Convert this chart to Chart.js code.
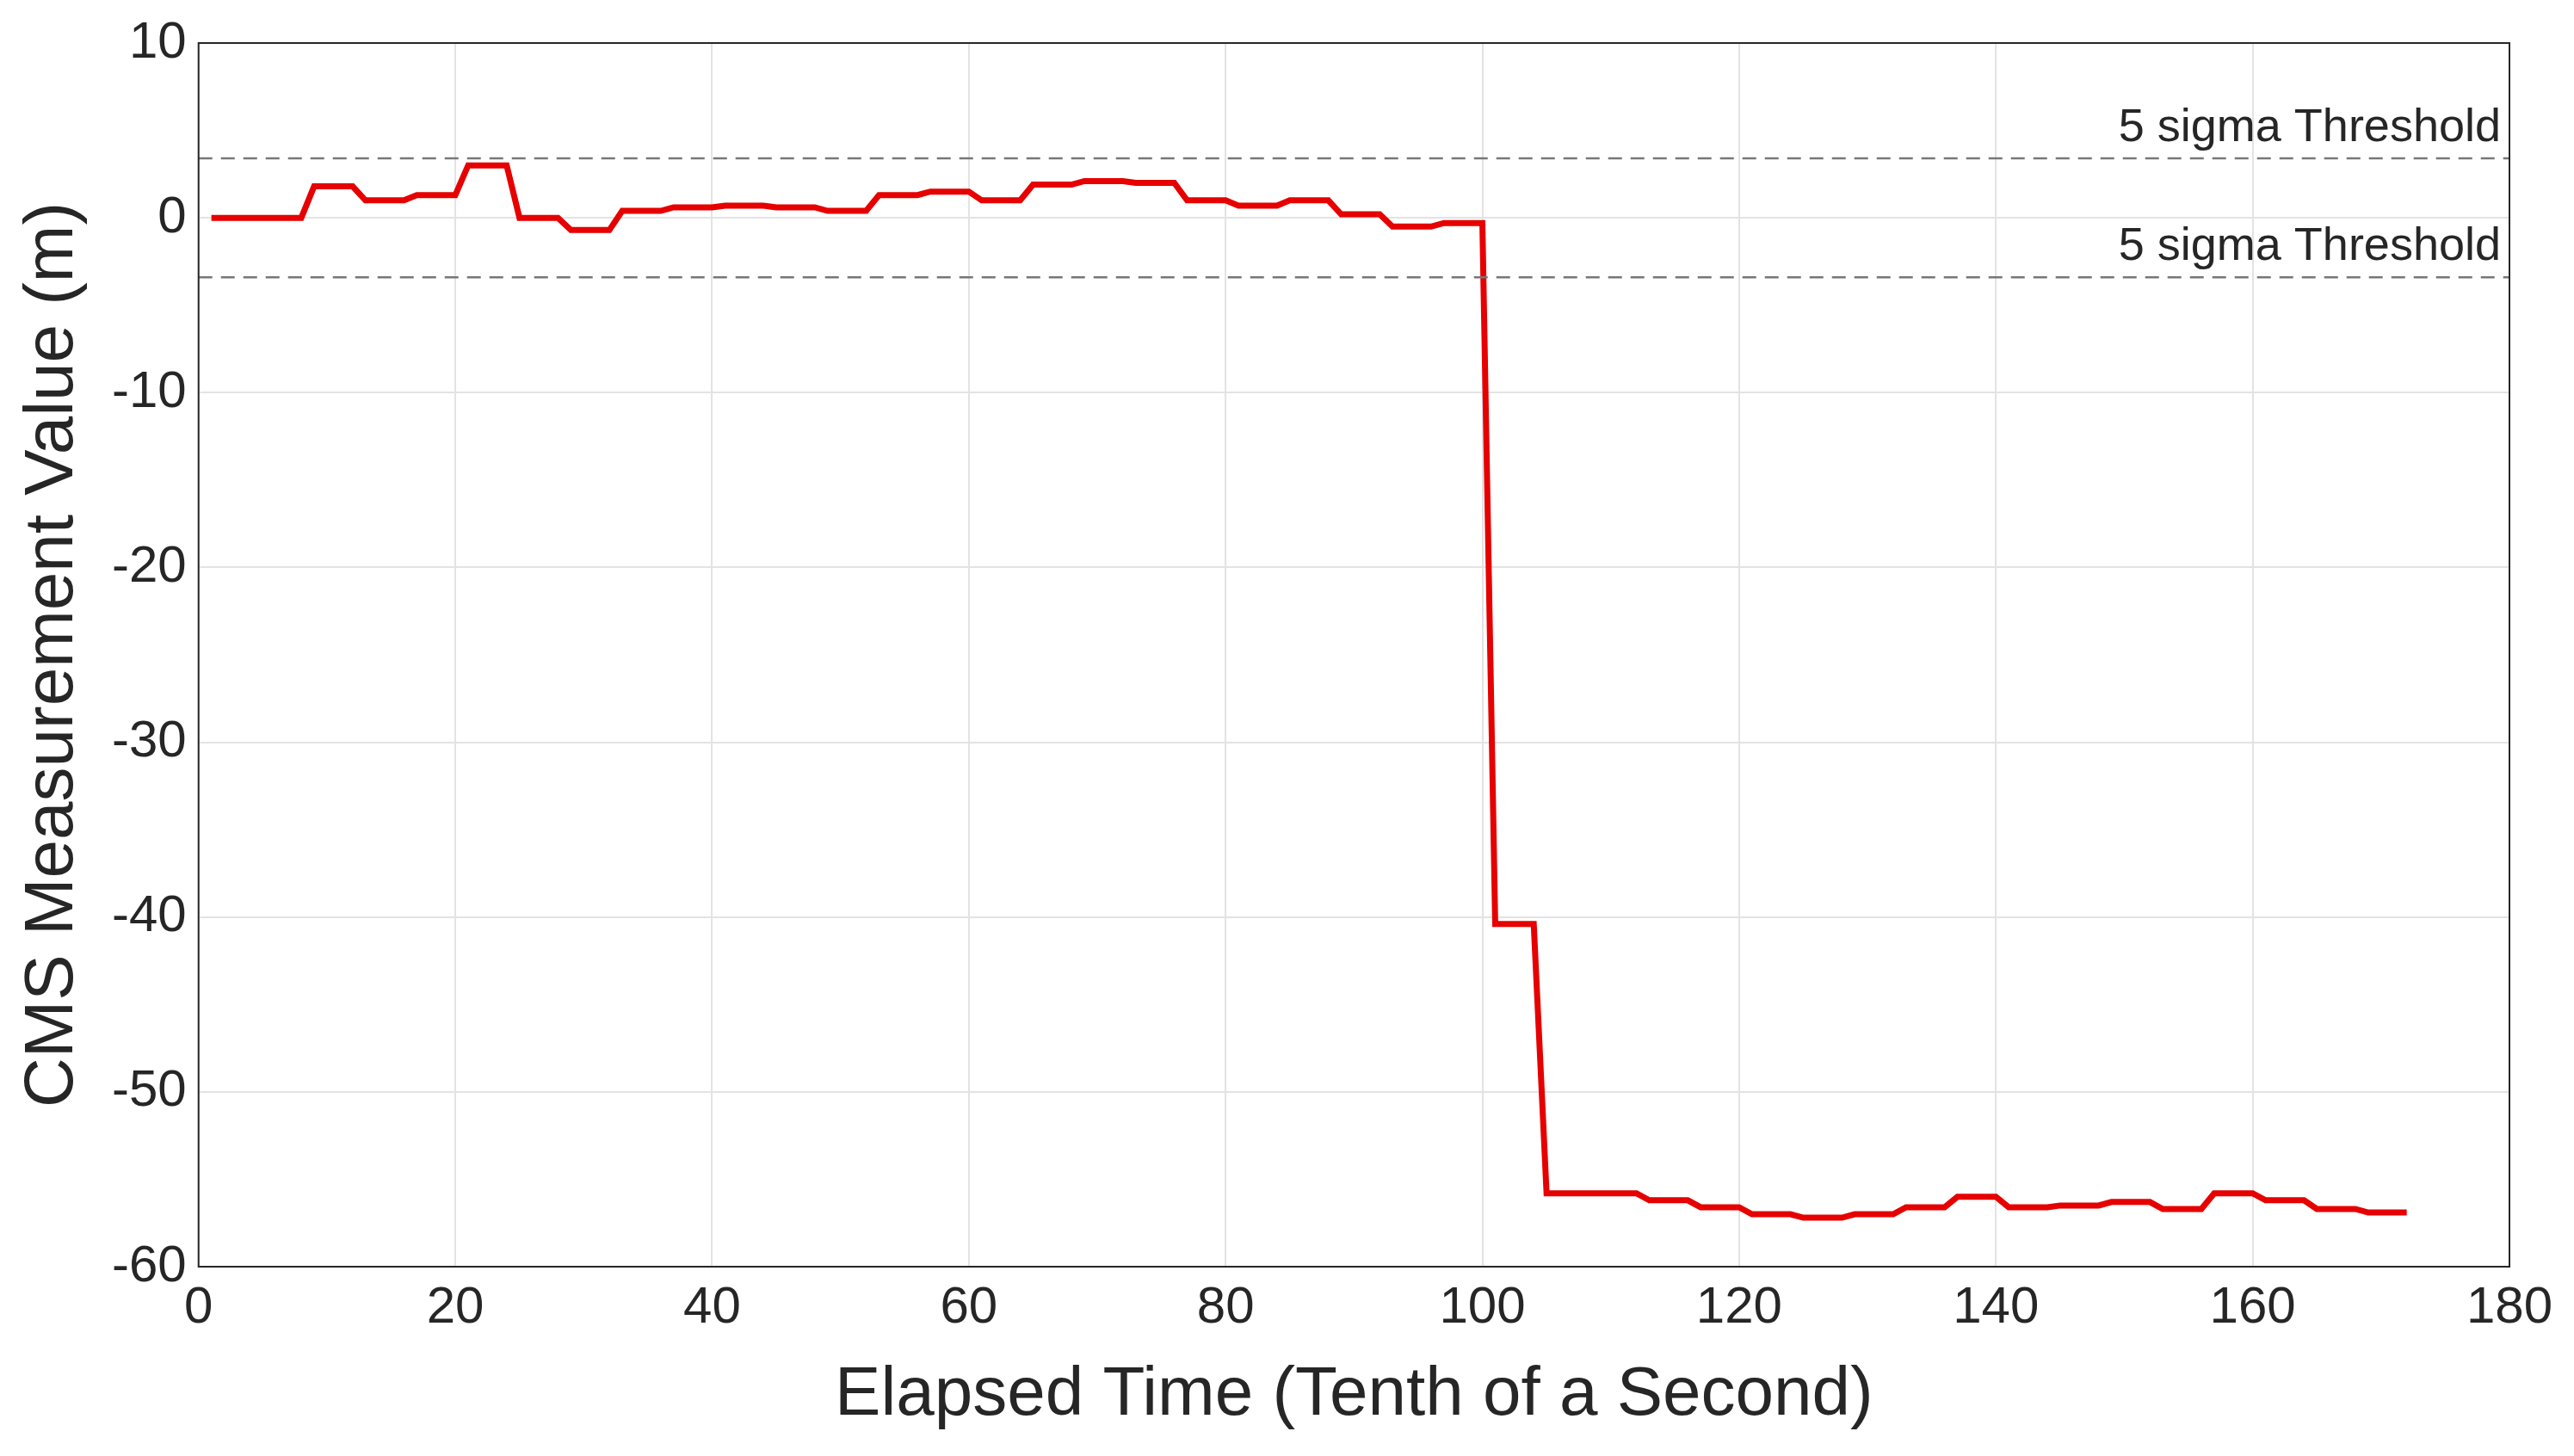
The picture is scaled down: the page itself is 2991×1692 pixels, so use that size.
<!DOCTYPE html>
<html>
<head>
<meta charset="utf-8">
<script src="https://cdn.jsdelivr.net/npm/chart.js@4"></script>
<style>
  html, body { margin: 0; padding: 0; background: #fff; }
  #wrap { width: 2991px; height: 1692px; }
</style>
</head>
<body>
<div id="wrap"><canvas id="cms"></canvas></div>
<script>
// Elapsed time samples (tenth of a second)
const times = [
  1,2,3,4,5,6,7,8,9,10,11,12,13,14,15,16,17,18,19,20,
  21,22,23,24,25,26,27,28,29,30,31,32,33,34,35,36,37,38,39,40,
  41,42,43,44,45,46,47,48,49,50,51,52,53,54,55,56,57,58,59,60,
  61,62,63,64,65,66,67,68,69,70,71,72,73,74,75,76,77,78,79,80,
  81,82,83,84,85,86,87,88,89,90,91,92,93,94,95,96,97,98,99,100,
  101,102,103,104,105,106,107,108,109,110,111,112,113,114,115,116,117,118,119,120,
  121,122,123,124,125,126,127,128,129,130,131,132,133,134,135,136,137,138,139,140,
  141,142,143,144,145,146,147,148,149,150,151,152,153,154,155,156,157,158,159,160,
  161,162,163,164,165,166,167,168,169,170,171,172
];
// CMS measurement value (m)
const cmsValues = [
  0,0,0,0,0,0,0,0,1.8,1.8,1.8,1.8,1.0,1.0,1.0,1.0,1.3,1.3,1.3,1.3,
  3.0,3.0,3.0,3.0,0,0,0,0,-0.7,-0.7,-0.7,-0.7,0.4,0.4,0.4,0.4,0.6,0.6,0.6,0.6,
  0.7,0.7,0.7,0.7,0.6,0.6,0.6,0.6,0.4,0.4,0.4,0.4,1.3,1.3,1.3,1.3,1.5,1.5,1.5,1.5,
  1.0,1.0,1.0,1.0,1.9,1.9,1.9,1.9,2.1,2.1,2.1,2.1,2.0,2.0,2.0,2.0,1.0,1.0,1.0,1.0,
  0.7,0.7,0.7,0.7,1.0,1.0,1.0,1.0,0.2,0.2,0.2,0.2,-0.5,-0.5,-0.5,-0.5,-0.3,-0.3,-0.3,-0.3,
  -40.4,-40.4,-40.4,-40.4,-55.8,-55.8,-55.8,-55.8,-55.8,-55.8,-55.8,-55.8,-56.2,-56.2,-56.2,-56.2,-56.6,-56.6,-56.6,-56.6,
  -57.0,-57.0,-57.0,-57.0,-57.2,-57.2,-57.2,-57.2,-57.0,-57.0,-57.0,-57.0,-56.6,-56.6,-56.6,-56.6,-56.0,-56.0,-56.0,-56.0,
  -56.6,-56.6,-56.6,-56.6,-56.5,-56.5,-56.5,-56.5,-56.3,-56.3,-56.3,-56.3,-56.7,-56.7,-56.7,-56.7,-55.8,-55.8,-55.8,-55.8,
  -56.2,-56.2,-56.2,-56.2,-56.7,-56.7,-56.7,-56.7,-56.9,-56.9,-56.9,-56.9
];
const thresholds = [3.4, -3.4];
const thresholdLabel = '5 sigma Threshold';
const xRange = [0, 180];
const yRange = [-60, 10];

const font = 'Arial, "Liberation Sans", sans-serif';

const thresholdPlugin = {
  id: 'thresholds',
  afterDatasetsDraw(chart) {
    const { ctx, chartArea, scales } = chart;
    ctx.save();
    ctx.strokeStyle = '#777';
    ctx.lineWidth = 2.5;
    ctx.setLineDash([16, 10]);
    thresholds.forEach(t => {
      const y = scales.y.getPixelForValue(t);
      ctx.beginPath();
      ctx.moveTo(chartArea.left, y);
      ctx.lineTo(chartArea.right, y);
      ctx.stroke();
    });
    ctx.setLineDash([]);
    ctx.fillStyle = '#262626';
    ctx.font = '54px ' + font;
    ctx.textAlign = 'right';
    ctx.textBaseline = 'bottom';
    thresholds.forEach(t => {
      const y = scales.y.getPixelForValue(t);
      ctx.fillText(thresholdLabel, chartArea.right - 10, y - 8);
    });
    ctx.strokeStyle = '#262626';
    ctx.lineWidth = 2;
    ctx.strokeRect(chartArea.left, chartArea.top, chartArea.right - chartArea.left, chartArea.bottom - chartArea.top);
    ctx.restore();
  }
};

new Chart(document.getElementById('cms'), {
  type: 'line',
  data: {
    datasets: [{
      data: times.map((t, i) => ({ x: t, y: cmsValues[i] })),
      borderColor: '#e60000',
      borderWidth: 7,
      pointRadius: 0,
      tension: 0,
      fill: false
    }]
  },
  options: {
    responsive: true,
    maintainAspectRatio: false,
    animation: false,
    layout: { padding: { top: 38, right: 75, left: 10, bottom: 18 } },
    plugins: { legend: { display: false }, tooltip: { enabled: false } },
    scales: {
      x: {
        type: 'linear',
        min: xRange[0], max: xRange[1],
        ticks: { stepSize: 20, color: '#262626', font: { size: 60, family: font }, padding: 12 },
        grid: { color: '#e3e3e3', lineWidth: 2, drawTicks: false },
        border: { display: false },
        title: { display: true, text: 'Elapsed Time (Tenth of a Second)', color: '#262626', font: { size: 80, family: font }, padding: { top: 6 } }
      },
      y: {
        min: yRange[0], max: yRange[1],
        ticks: { stepSize: 10, color: '#262626', font: { size: 60, family: font }, padding: 14 },
        grid: { color: '#e3e3e3', lineWidth: 2, drawTicks: false },
        border: { display: false },
        title: { display: true, text: 'CMS Measurement Value (m)', color: '#262626', font: { size: 80, family: font }, padding: { bottom: 6 } }
      }
    }
  },
  plugins: [thresholdPlugin]
});
</script>
</body>
</html>
